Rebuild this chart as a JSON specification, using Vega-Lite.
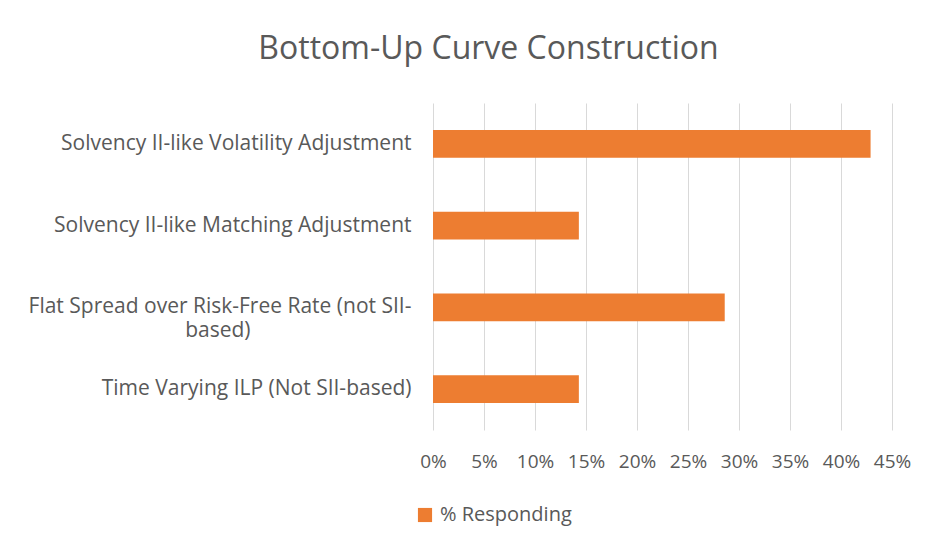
{
  "$schema": "https://vega.github.io/schema/vega-lite/v6.json",
  "autosize": {"type": "none"},
  "width": 459,
  "height": 327,
  "padding": {"left": 433, "top": 103, "right": 59, "bottom": 121},
  "background": "white",
  "config": {
    "font": "Open Sans",
    "view": {"stroke": null}
  },
  "title": {
    "text": "Bottom-Up Curve Construction",
    "fontSize": 32,
    "fontWeight": "normal",
    "color": "#595959",
    "font": "Open Sans",
    "anchor": "middle",
    "dx": -174,
    "offset": 37
  },
  "data": {
    "values": [
      {"category": "Solvency II-like Volatility Adjustment", "value": 0.429, "series": "% Responding"},
      {"category": "Solvency II-like Matching Adjustment", "value": 0.143, "series": "% Responding"},
      {"category": "Flat Spread over Risk-Free Rate (not SII-based)", "value": 0.286, "series": "% Responding"},
      {"category": "Time Varying ILP (Not SII-based)", "value": 0.143, "series": "% Responding"}
    ]
  },
  "mark": {"type": "bar", "color": "#ED7D31"},
  "encoding": {
    "y": {
      "field": "category",
      "type": "nominal",
      "sort": null,
      "scale": {"paddingInner": 0.66, "paddingOuter": 0.33},
      "axis": {
        "title": null,
        "domain": false,
        "ticks": false,
        "labelPadding": 22,
        "labelFontSize": 21,
        "labelColor": "#595959",
        "labelLimit": 500,
        "labelLineHeight": 24,
        "labelExpr": "datum.label == 'Flat Spread over Risk-Free Rate (not SII-based)' ? ['Flat Spread over Risk-Free Rate (not SII-', 'based)\u2003\u2003\u2003\u2003\u2003\u2003\u2003\u2002\u2009\u200b'] : datum.label"
      }
    },
    "x": {
      "field": "value",
      "type": "quantitative",
      "scale": {"domain": [0, 0.45], "nice": false},
      "axis": {
        "title": null,
        "format": ".0%",
        "values": [0, 0.05, 0.1, 0.15, 0.2, 0.25, 0.3, 0.35, 0.4, 0.45],
        "domain": false,
        "ticks": false,
        "grid": true,
        "gridColor": "#d9d9d9",
        "gridWidth": 1,
        "labelPadding": 22,
        "labelFontSize": 19,
        "labelColor": "#595959",
        "labelFlush": false
      }
    },
    "color": {
      "field": "series",
      "type": "nominal",
      "scale": {"range": ["#ED7D31"]},
      "legend": {
        "title": null,
        "orient": "none",
        "legendX": -18,
        "legendY": 402,
        "symbolType": "square",
        "symbolSize": 200,
        "symbolStrokeWidth": 0,
        "labelFontSize": 20,
        "labelColor": "#595959",
        "labelOffset": 5
      }
    }
  }
}
